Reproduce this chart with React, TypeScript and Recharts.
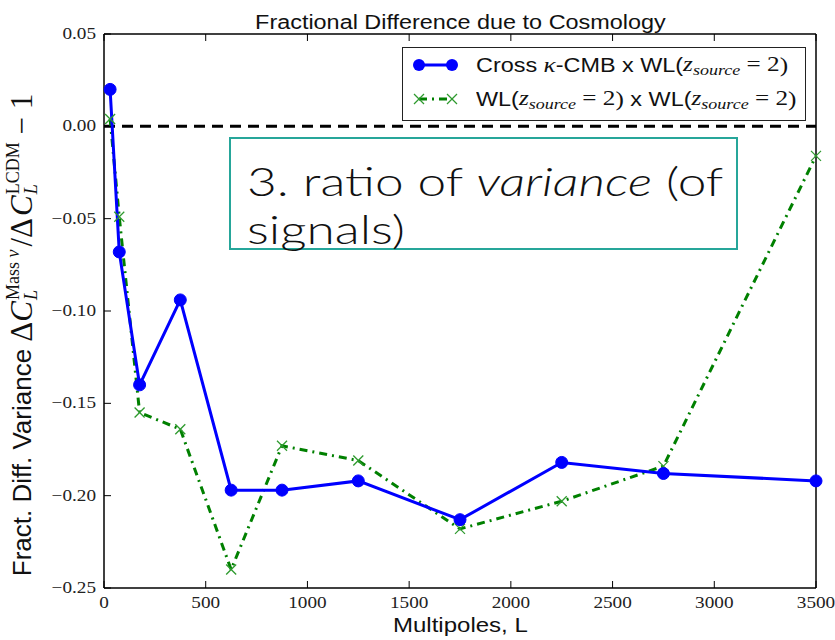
import React from "react";
import { LineChart, Line, XAxis, YAxis, ReferenceLine } from "recharts";

// Multipole bins and the fractional variance difference for each probe
const multipoles = [30, 75, 175, 375, 625, 875, 1250, 1750, 2250, 2750, 3500];
const crossCmbWl = [0.02, -0.068, -0.14, -0.094, -0.197, -0.197, -0.192, -0.213, -0.182, -0.188, -0.192];
const wlWl = [0.004, -0.049, -0.155, -0.164, -0.24, -0.173, -0.181, -0.218, -0.203, -0.184, -0.016];

const xTicks = [0, 500, 1000, 1500, 2000, 2500, 3000, 3500];
const yTicks = [0.05, 0, -0.05, -0.1, -0.15, -0.2, -0.25];

const rows = multipoles.map((L, i) => ({ L, cross: crossCmbWl[i], wl: wlWl[i] }));

const BLUE = "#0000ff";
const GREEN = "#008000";
const MARK_GREEN = "#2e9a2e";
const SERIF = "'Liberation Serif', 'DejaVu Serif', serif";
const SANS = "'Liberation Sans', Arial, sans-serif";
const TICK = 7;
// horizontal stretch applied to all horizontally set text
const SX = 1.2;

const fmtY = (v: number) => (v < 0 ? "\u2212" : "") + Math.abs(v).toFixed(2);

const BottomTick = (p: any) => (
  <g>
    <line x1={p.x} y1={p.y} x2={p.x} y2={p.y - TICK} stroke="#000" strokeWidth={1} />
    <text
      transform={`translate(${p.x},${p.y + 20}) scale(${SX},1)`}
      textAnchor="middle"
      style={{ fontFamily: SERIF, fontSize: 16 }}
      fill="#222"
    >
      {p.payload.value}
    </text>
  </g>
);

const TopTick = (p: any) => (
  <line x1={p.x} y1={p.y} x2={p.x} y2={p.y + TICK} stroke="#000" strokeWidth={1} />
);

const LeftTick = (p: any) => (
  <g>
    <line x1={p.x} y1={p.y} x2={p.x + TICK} y2={p.y} stroke="#000" strokeWidth={1} />
    <text
      transform={`translate(${p.x - 8},${p.y + 5}) scale(${SX},1)`}
      textAnchor="end"
      style={{ fontFamily: SERIF, fontSize: 16 }}
      fill="#222"
    >
      {fmtY(p.payload.value)}
    </text>
  </g>
);

const RightTick = (p: any) => (
  <line x1={p.x} y1={p.y} x2={p.x - TICK} y2={p.y} stroke="#000" strokeWidth={1} />
);

const CrossMark = (p: any) => {
  if (p.cx == null || p.cy == null) return null;
  const s = 5;
  return (
    <g key={`x-${p.index}`} stroke={MARK_GREEN} strokeWidth={1.3}>
      <line x1={p.cx - s} y1={p.cy - s} x2={p.cx + s} y2={p.cy + s} />
      <line x1={p.cx - s} y1={p.cy + s} x2={p.cx + s} y2={p.cy - s} />
    </g>
  );
};

const Zsource = () => (
  <span style={{ fontFamily: SERIF }}>
    <i style={{ fontSize: 21 }}>z</i>
    <i style={{ fontSize: 15, verticalAlign: -4 }}>source</i>
    <span style={{ fontSize: 21 }}> = 2</span>
  </span>
);

const legendRow: React.CSSProperties = {
  position: "absolute",
  left: 73,
  height: 30,
  display: "flex",
  alignItems: "center",
  whiteSpace: "nowrap",
  fontFamily: SANS,
  fontSize: 19.5,
  color: "#111",
  transform: `scaleX(${SX})`,
  transformOrigin: "left center",
};

const MATH = 31;

const script: React.CSSProperties = {
  display: "inline-flex",
  flexDirection: "column",
  fontFamily: SERIF,
  fontSize: 18,
  lineHeight: "18px",
  marginLeft: 1,
};

const noteLine: React.CSSProperties = {
  position: "absolute",
  left: 16,
  height: 48,
  fontFamily: "Lato, 'Open Sans', sans-serif",
  fontWeight: 300,
  fontSize: 38.5,
  lineHeight: "48px",
  color: "#111",
  whiteSpace: "nowrap",
  transform: "scaleX(1.335)",
  transformOrigin: "left top",
};

export default function App() {
  return (
    <div style={{ position: "absolute", left: 0, top: 0, width: 835, height: 640, background: "#fff" }}>
      <LineChart
        width={835}
        height={640}
        data={rows}
        margin={{ top: 33, right: 18, bottom: 51, left: 0 }}
      >
        <XAxis
          dataKey="L"
          type="number"
          domain={[0, 3500]}
          ticks={xTicks}
          interval={0}
          height={1}
          tickSize={0}
          tickMargin={0}
          tick={BottomTick}
          tickLine={false}
          axisLine={{ stroke: "#000", strokeWidth: 1.5 }}
        />
        <XAxis
          xAxisId="top"
          orientation="top"
          dataKey="L"
          type="number"
          domain={[0, 3500]}
          ticks={xTicks}
          interval={0}
          height={1}
          tickSize={0}
          tickMargin={0}
          tick={TopTick}
          tickLine={false}
          axisLine={{ stroke: "#000", strokeWidth: 1.5 }}
        />
        <YAxis
          type="number"
          domain={[-0.25, 0.05]}
          ticks={yTicks}
          interval={0}
          width={104}
          tickSize={0}
          tickMargin={0}
          tick={LeftTick}
          tickLine={false}
          axisLine={{ stroke: "#000", strokeWidth: 1.5 }}
        />
        <YAxis
          yAxisId="right"
          orientation="right"
          type="number"
          domain={[-0.25, 0.05]}
          ticks={yTicks}
          interval={0}
          width={1}
          tickSize={0}
          tickMargin={0}
          tick={RightTick}
          tickLine={false}
          axisLine={{ stroke: "#000", strokeWidth: 1.5 }}
        />
        <ReferenceLine y={0} stroke="#000" strokeWidth={3} strokeDasharray="11 7" />
        <Line
          dataKey="wl"
          type="linear"
          stroke={GREEN}
          strokeWidth={3}
          strokeDasharray="8 5 2 5"
          dot={CrossMark}
          activeDot={false}
          isAnimationActive={false}
        />
        <Line
          dataKey="cross"
          type="linear"
          stroke={BLUE}
          strokeWidth={3}
          dot={{ r: 6, fill: BLUE, stroke: BLUE, strokeWidth: 1 }}
          activeDot={false}
          isAnimationActive={false}
        />
      </LineChart>

      {/* title */}
      <div
        style={{
          position: "absolute",
          left: 104,
          width: 712,
          top: 11,
          textAlign: "center",
          fontFamily: SANS,
          fontSize: 19.5,
          color: "#111",
          transform: `scaleX(${SX})`,
          transformOrigin: "354px 0",
        }}
      >
        Fractional Difference due to Cosmology
      </div>

      {/* x-axis label */}
      <div
        style={{
          position: "absolute",
          left: 104,
          width: 712,
          top: 614,
          textAlign: "center",
          fontFamily: SANS,
          fontSize: 20,
          color: "#111",
          transform: `scaleX(${SX})`,
          transformOrigin: "354px 0",
        }}
      >
        Multipoles, L
      </div>

      {/* y-axis label */}
      <div
        style={{
          position: "absolute",
          left: 22,
          top: 335,
          transform: "translate(-50%, -50%) rotate(-90deg)",
          whiteSpace: "nowrap",
          fontFamily: SANS,
          fontSize: 26,
          color: "#111",
          display: "flex",
          alignItems: "center",
        }}
      >
        <span>Fract. Diff. Variance&nbsp;</span>
        <span style={{ fontFamily: SERIF, fontSize: MATH }}>Δ</span>
        <i style={{ fontFamily: SERIF, fontSize: MATH }}>C</i>
        <span style={script}>
          <span>
            Mass <i>ν</i>
          </span>
          <i>L</i>
        </span>
        <span style={{ fontFamily: SERIF, fontSize: MATH, margin: "0 2px 0 3px" }}>/Δ</span>
        <i style={{ fontFamily: SERIF, fontSize: MATH }}>C</i>
        <span style={script}>
          <span>LCDM</span>
          <i>L</i>
        </span>
        <span style={{ fontFamily: SERIF, fontSize: MATH }}>&nbsp;− 1</span>
      </div>

      {/* legend */}
      <div
        style={{
          position: "absolute",
          left: 402,
          top: 47,
          width: 402,
          height: 72,
          border: "1.5px solid #222",
          background: "#fff",
        }}
      >
        <svg width={74} height={72} style={{ position: "absolute", left: 0, top: 0 }}>
          <line x1={16} y1={17} x2={49} y2={17} stroke={BLUE} strokeWidth={3} />
          <circle cx={16} cy={17} r={6} fill={BLUE} />
          <circle cx={49} cy={17} r={6} fill={BLUE} />
          <line x1={16} y1={51} x2={49} y2={51} stroke={GREEN} strokeWidth={3} strokeDasharray="8 5 2 5" />
          <g stroke={MARK_GREEN} strokeWidth={1.3}>
            <line x1={11} y1={46} x2={21} y2={56} />
            <line x1={11} y1={56} x2={21} y2={46} />
            <line x1={44} y1={46} x2={54} y2={56} />
            <line x1={44} y1={56} x2={54} y2={46} />
          </g>
        </svg>
        <div style={{ ...legendRow, top: 2 }}>
          <span>
            Cross <i style={{ fontFamily: SERIF, fontSize: 21 }}>κ</i>-CMB x WL(
          </span>
          <Zsource />
          <span style={{ fontFamily: SERIF, fontSize: 21 }}>)</span>
        </div>
        <div style={{ ...legendRow, top: 36 }}>
          <span>WL(</span>
          <Zsource />
          <span style={{ fontFamily: SERIF, fontSize: 21 }}>)</span>
          <span>&nbsp;x WL(</span>
          <Zsource />
          <span style={{ fontFamily: SERIF, fontSize: 21 }}>)</span>
        </div>
      </div>

      {/* annotation */}
      <div
        style={{
          position: "absolute",
          left: 229,
          top: 137,
          width: 505,
          height: 109,
          border: "2px solid #26a69a",
          background: "#fff",
          boxSizing: "content-box",
        }}
      >
        <div style={{ ...noteLine, top: 18 }}>
          3. ratio of <i>variance</i> (of
        </div>
        <div style={{ ...noteLine, top: 66 }}>signals)</div>
      </div>
    </div>
  );
}
